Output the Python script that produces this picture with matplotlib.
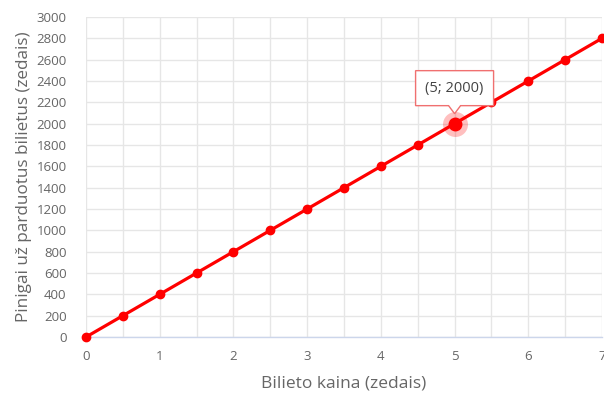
import numpy as np
import matplotlib.pyplot as plt
from matplotlib.patches import Polygon

# data
kaina = [0, 0.5, 1, 1.5, 2, 2.5, 3, 3.5, 4, 4.5, 5, 5.5, 6, 6.5, 7]
pinigai = [0, 200, 400, 600, 800, 1000, 1200, 1400, 1600, 1800, 2000, 2200, 2400, 2600, 2800]
x_ticks = [0, 1, 2, 3, 4, 5, 6, 7]
y_ticks = list(range(0, 3001, 200))
hover_x = 5
hover_y = 2000

plt.rcParams['font.family'] = ['Open Sans', 'DejaVu Sans']

fig = plt.figure(figsize=(6.04, 3.95), dpi=100)
ax = fig.add_axes([0.1424, 0.1468, 0.8543, 0.8102])

red = '#ff0000'
grid_c = '#e6e6e6'
text_c = '#666666'

ax.plot(kaina, pinigai, color=red, lw=2.3, marker='o', ms=6, zorder=3, clip_on=False)

# hovered point
ax.plot([hover_x], [hover_y], 'o', color=red, ms=18, alpha=0.25, mec='none', zorder=4)
ax.plot([hover_x], [hover_y], 'o', color=red, ms=9, zorder=5)

ax.set_xlim(0, 7)
ax.set_ylim(0, 3000)
ax.set_xticks(x_ticks)
ax.set_xticks(np.arange(0, 7.01, 0.5), minor=True)
ax.set_yticks(y_ticks)

ax.grid(True, which='major', color=grid_c, lw=1)
ax.grid(True, which='minor', axis='x', color=grid_c, lw=1)
ax.set_axisbelow(True)

for s in ['top', 'right', 'left']:
    ax.spines[s].set_visible(False)
ax.spines['bottom'].set_color('#ccd6eb')
ax.spines['bottom'].set_linewidth(1)

ax.tick_params(axis='both', which='both', length=0, colors=text_c, labelsize=9.5)
ax.tick_params(axis='x', pad=9)
ax.tick_params(axis='y', pad=14)

ax.set_xlabel('Bilieto kaina (zedais)', color=text_c, fontsize=12.5, labelpad=9)
ax.set_ylabel('Pinigai už parduotus bilietus (zedais)', color=text_c, fontsize=12.3, labelpad=3)

# tooltip
px, py = ax.transData.transform((hover_x, hover_y))
W, H = fig.bbox.width, fig.bbox.height
bx0, bx1 = px - 39, px + 39
by0, by1 = py + 18, py + 53
pts = [(bx0, by0), (px - 6, by0), (px, py + 10), (px + 6, by0), (bx1, by0), (bx1, by1), (bx0, by1)]
pts = [(a / W, b / H) for a, b in pts]
fig.patches.append(Polygon(pts, closed=True, transform=fig.transFigure,
                           facecolor='white', edgecolor='#f07070', lw=1, zorder=10))
fig.text(px / W, (by0 + by1) / 2 / H, '(5; 2000)', ha='center', va='center',
         fontsize=10.5, color='#444444', zorder=11)

fig.savefig('out.png', dpi=100)
